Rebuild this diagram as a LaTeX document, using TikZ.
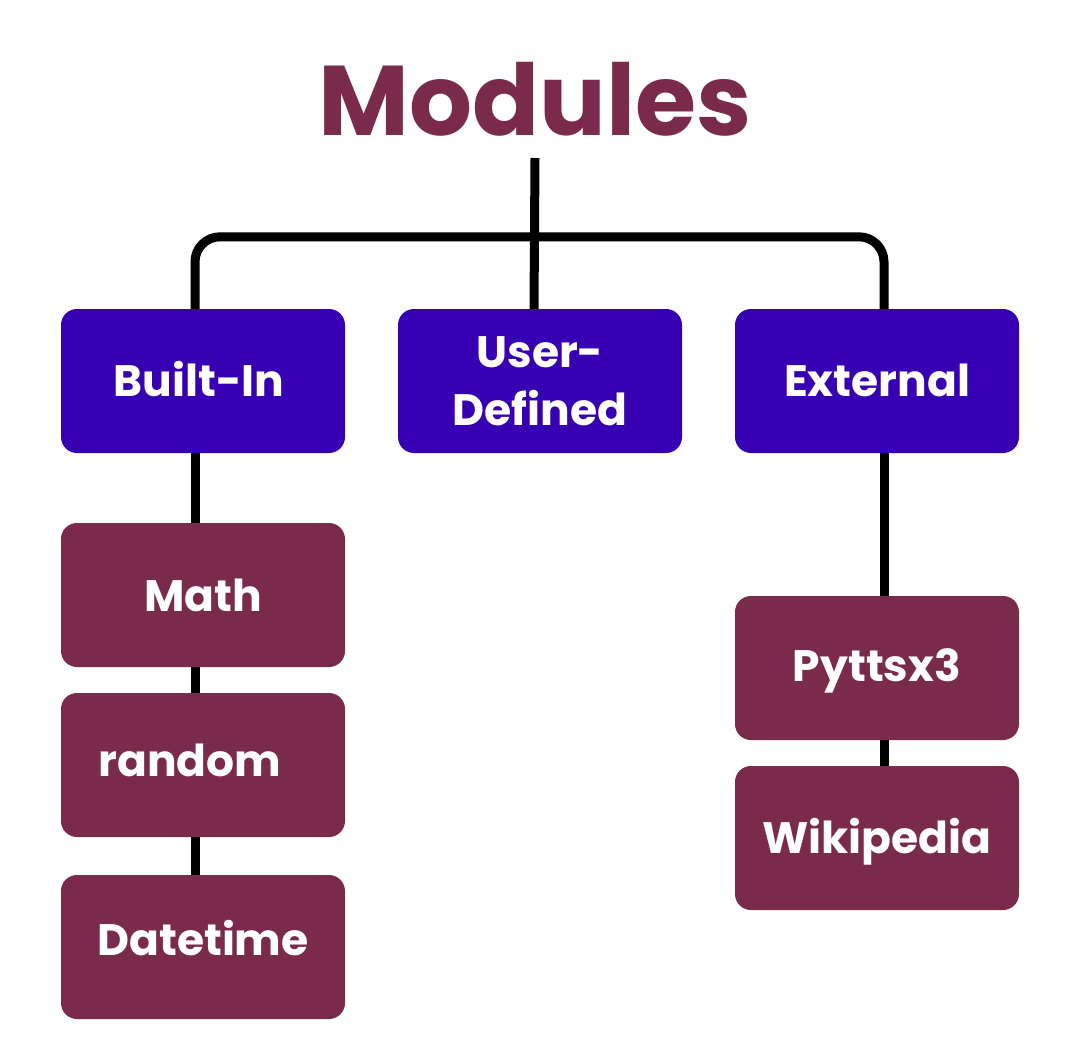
\documentclass[tikz,border=0pt]{standalone}
\usepackage{fontspec}
\setmainfont{Poppins}
\usetikzlibrary{calc}
\definecolor{maroon}{RGB}{122,42,74}
\definecolor{royal}{RGB}{55,0,179}
\begin{document}
\begin{tikzpicture}[x=1pt,y=-1pt,
  box/.style={rectangle, rounded corners=16pt, minimum width=284pt, minimum height=144pt,
    inner sep=0pt, text=white, font=\fontsize{44}{58}\selectfont\bfseries},
  topbox/.style={box, fill=royal},
  subbox/.style={box, fill=maroon},
  conn/.style={line width=9pt, draw=black}]
\useasboundingbox (0,0) rectangle (1080,1050);
\fill[white] (0,0) rectangle (1080,1050);

\node[anchor=base, text=maroon, font=\fontsize{99}{110}\selectfont\bfseries] (title) at (535,135) {Modules};

\node[topbox, text height=31pt, text depth=0pt] (builtin) at (203,381) {\kern-8pt Built-In};
\node[topbox, align=center] (user) at (540,381) {User-\\Defined};
\node[topbox, text height=31pt, text depth=0pt] (external) at (877,381) {External};

\node[subbox, text height=32pt, text depth=0pt] (math) at (203,595) {Math};
\node[subbox, text height=22pt, text depth=0pt] (random) at (203,765) {random\kern26pt};
\node[subbox, text height=16pt, text depth=0pt] (datetime) at (203,947) {Datetime};
\node[subbox, text height=26pt, text depth=0pt] (pytt) at (877,668) {Pyttsx3};
\node[subbox, text height=30pt, text depth=0pt] (wiki) at (877,838) {Wikipedia};

% connectors
\draw[conn] ($(title.base)+(0,23)$) -- ([xshift=-6pt]user.north);
\draw[conn, rounded corners=25pt] ([xshift=-8pt]builtin.north) -- ++(0,-72) -| ([xshift=7pt]external.north);
\draw[conn] ([xshift=-8pt]builtin.south) -- ([xshift=-8pt]math.north);
\draw[conn] ([xshift=-8pt]math.south) -- ([xshift=-8pt]random.north);
\draw[conn] ([xshift=-8pt]random.south) -- ([xshift=-8pt]datetime.north);
\draw[conn] ([xshift=7pt]external.south) -- ([xshift=7pt]pytt.north);
\draw[conn] ([xshift=7pt]pytt.south) -- ([xshift=7pt]wiki.north);
\end{tikzpicture}
\end{document}
